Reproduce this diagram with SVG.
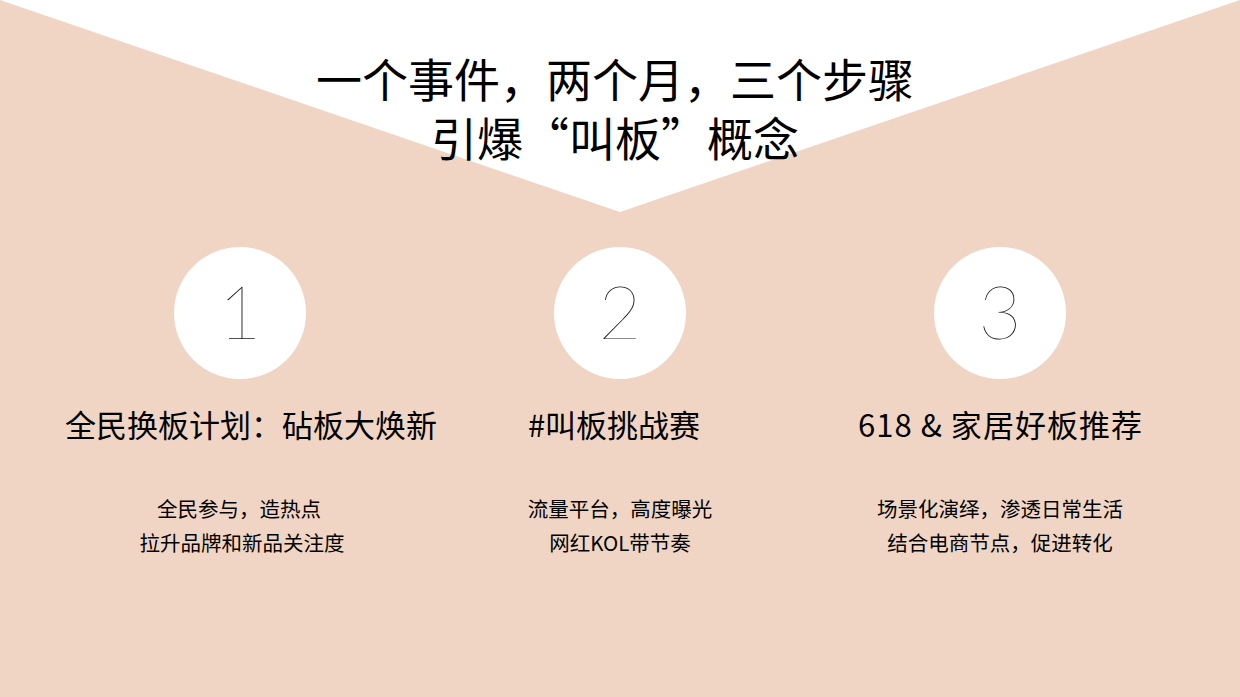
<svg xmlns="http://www.w3.org/2000/svg" width="1240" height="697" viewBox="0 0 1240 697">
<style>
text{font-family:"Noto Sans CJK SC","Noto Sans",sans-serif;fill:#000;text-anchor:middle}
.title{font-size:46px}
.num{font-family:"Lato","Roboto","Open Sans",sans-serif;font-weight:200;font-size:74px;fill:#111}
.head{font-size:31px}
.sub{font-size:20.5px}
.circ{fill:#fff}
</style>
<rect width="1240" height="697" fill="#F0D5C4"/>
<polygon points="0,0 1240,0 620,212" fill="#fff"/>
<g id="title">
<text class="title" x="615" y="97">一个事件，两个月，三个步骤</text>
<text class="title" x="615" y="156">引爆“叫板”概念</text>
</g>
<g id="step1">
<circle class="circ" cx="240" cy="313" r="66"/>
<text class="num" x="240" y="339">1</text>
<text class="head" x="251" y="437">全民换板计划：砧板大焕新</text>
<text class="sub" x="239" y="517">全民参与，造热点</text>
<text class="sub" x="242" y="551">拉升品牌和新品关注度</text>
</g>
<g id="step2">
<circle class="circ" cx="620" cy="313" r="66"/>
<text class="num" x="620" y="339">2</text>
<text class="head" x="614" y="437">#叫板挑战赛</text>
<text class="sub" x="620" y="517">流量平台，高度曝光</text>
<text class="sub" x="620" y="551">网红KOL带节奏</text>
</g>
<g id="step3">
<circle class="circ" cx="1000" cy="313" r="66"/>
<text class="num" x="1000" y="339">3</text>
<text class="head" x="1000" y="437" textLength="284" lengthAdjust="spacing">618 &amp; 家居好板推荐</text>
<text class="sub" x="1000" y="517">场景化演绎，渗透日常生活</text>
<text class="sub" x="1000" y="551">结合电商节点，促进转化</text>
</g>
<g id="connectors"/>
</svg>
